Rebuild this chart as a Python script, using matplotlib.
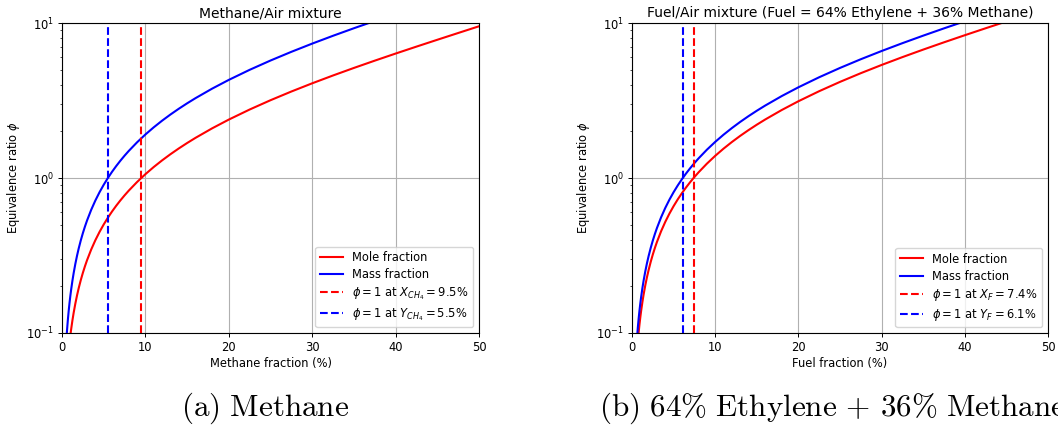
import matplotlib
matplotlib.use("Agg")
import matplotlib.pyplot as plt

# ---------------- data ----------------
# (a) Methane/Air
ch4_mole_x = [1.0, 1.1, 1.25, 1.4, 1.6, 1.8, 2.0, 2.25, 2.5, 2.75, 3, 3.5, 4, 4.5, 5, 5.5, 6, 6.5, 7, 7.5,
              8, 9, 10, 11, 12, 13, 14, 15, 16, 18, 20, 22.5, 25, 27.5, 30, 32.5, 35, 37.5, 40, 42.5,
              45, 47.5, 50]
ch4_mole_phi = [0.09622, 0.10595, 0.12058, 0.13526, 0.15489, 0.17461, 0.19441, 0.21927, 0.24426,
                0.26937, 0.29462, 0.34550, 0.39692, 0.44887, 0.50137, 0.55442, 0.60804, 0.66224,
                0.71701, 0.77238, 0.82835, 0.94213, 1.0584, 1.1774, 1.2990, 1.4234, 1.5507, 1.6811,
                1.8145, 2.0911, 2.3815, 2.7656, 3.1753, 3.6133, 4.0826, 4.5866, 5.1294, 5.7156,
                6.3507, 7.0410, 7.7940, 8.6188, 9.526]
ch4_mass_x = [0.5, 0.6, 0.7, 0.8, 0.9, 1.0, 1.1, 1.25, 1.4, 1.6, 1.8, 2.0, 2.25, 2.5, 2.75, 3, 3.5, 4,
              4.5, 5, 5.5, 6, 6.5, 7, 7.5, 8, 9, 10, 11, 12, 13, 14, 15, 16, 18, 20, 22.5, 25, 27.5,
              30, 32.5, 35, 37.5]
ch4_mass_phi = [0.08633, 0.10370, 0.12111, 0.13855, 0.15603, 0.17354, 0.19108, 0.21747, 0.24394,
                0.27935, 0.31491, 0.35061, 0.39545, 0.44051, 0.48582, 0.53134, 0.62310, 0.71584,
                0.80952, 0.90422, 0.99989, 1.0966, 1.1943, 1.2931, 1.3930, 1.4939, 1.6991, 1.9089,
                2.1234, 2.3427, 2.5671, 2.7968, 3.0318, 3.2724, 3.7712, 4.295, 4.9877, 5.7267,
                6.5166, 7.3628, 8.2718, 9.2508, 10.308]
ch4_x_st = 9.5
ch4_y_st = 5.5

# (b) 64% Ethylene + 36% Methane
fuel_mole_x = [0.75, 0.8, 0.9, 1.0, 1.1, 1.25, 1.4, 1.6, 1.8, 2.0, 2.25, 2.5, 2.75, 3, 3.5, 4, 4.5, 5,
               5.5, 6, 6.5, 7, 7.5, 8, 9, 10, 11, 12, 13, 14, 15, 16, 18, 20, 22.5, 25, 27.5, 30,
               32.5, 35, 37.5, 40, 42.5, 45]
fuel_mole_phi = [0.09453, 0.10089, 0.11362, 0.12636, 0.13914, 0.15835, 0.17763, 0.20341, 0.22931,
                 0.25530, 0.28796, 0.32077, 0.35376, 0.38691, 0.45373, 0.52125, 0.58947, 0.65843,
                 0.72809, 0.79851, 0.86968, 0.94162, 1.0143, 1.0878, 1.2372, 1.3900, 1.5462,
                 1.7059, 1.8693, 2.0365, 2.2076, 2.3829, 2.7461, 3.1275, 3.6319, 4.1700, 4.7452,
                 5.3614, 6.0233, 6.7362, 7.506, 8.340, 9.2465, 10.235]
fuel_mass_x = [0.5, 0.6, 0.7, 0.8, 0.9, 1.0, 1.1, 1.25, 1.4, 1.6, 1.8, 2.0, 2.25, 2.5, 2.75, 3, 3.5,
               4, 4.5, 5, 5.5, 6, 6.5, 7, 7.5, 8, 9, 10, 11, 12, 13, 14, 15, 16, 18, 20, 22.5, 25,
               27.5, 30, 32.5, 35, 37.5, 40]
fuel_mass_phi = [0.07734, 0.09289, 0.10848, 0.12412, 0.13977, 0.15545, 0.17117, 0.19481, 0.21852,
                 0.25024, 0.28210, 0.31408, 0.35425, 0.39462, 0.43520, 0.47598, 0.55818, 0.64126,
                 0.72518, 0.81001, 0.89571, 0.98234, 1.0699, 1.1584, 1.2478, 1.3383, 1.5221,
                 1.7100, 1.9022, 2.0986, 2.2997, 2.5053, 2.7159, 2.9314, 3.3783, 3.8475, 4.4681,
                 5.1300, 5.8376, 6.5957, 7.4100, 8.2869, 9.234, 10.26]
fuel_x_st = 7.4
fuel_y_st = 6.1

titles = ["Methane/Air mixture", "Fuel/Air mixture (Fuel = 64% Ethylene + 36% Methane)"]
xlabels = ["Methane fraction (%)", "Fuel fraction (%)"]
captions = [r"$\mathrm{(a)\ Methane}$", r"$\mathrm{(b)\ 64\%\ Ethylene\,+\,36\%\ Methane}$"]

# ---------------- figure ----------------
fs = 8.3
fig = plt.figure(figsize=(10.58, 4.29), dpi=100)
ax1 = fig.add_axes([62 / 1058, 1 - 333 / 429, 417 / 1058, 310 / 429])
ax2 = fig.add_axes([632 / 1058, 1 - 333 / 429, 416 / 1058, 310 / 429])

panels = [
    (ax1, ch4_mole_x, ch4_mole_phi, ch4_mass_x, ch4_mass_phi, ch4_x_st, ch4_y_st,
     r"$\phi = 1$ at $X_{CH_4} = %.1f\%%$", r"$\phi = 1$ at $Y_{CH_4} = %.1f\%%$"),
    (ax2, fuel_mole_x, fuel_mole_phi, fuel_mass_x, fuel_mass_phi, fuel_x_st, fuel_y_st,
     r"$\phi = 1$ at $X_F = %.1f\%%$", r"$\phi = 1$ at $Y_F = %.1f\%%$"),
]

for i, (ax, mx, mp, yx, yp, xst, yst, lx, ly) in enumerate(panels):
    ax.plot(mx, mp, color="red", lw=1.5, label="Mole fraction")
    ax.plot(yx, yp, color="blue", lw=1.5, label="Mass fraction")
    ax.axvline(xst, color="red", ls="--", lw=1.5, label=lx % xst)
    ax.axvline(yst, color="blue", ls="--", lw=1.5, label=ly % yst)
    ax.set_yscale("log")
    ax.set_xlim(0, 50)
    ax.set_ylim(0.1, 10)
    ax.grid(True, which="major", color="#b0b0b0", lw=0.8)
    ax.set_title(titles[i], fontsize=10, pad=4)
    ax.set_xlabel(xlabels[i], fontsize=fs, labelpad=2)
    ax.set_ylabel(r"Equivalence ratio $\phi$", fontsize=fs, labelpad=3)
    ax.tick_params(which="major", labelsize=fs, length=2.9, width=0.7, pad=2.9)
    ax.tick_params(which="minor", length=1.7, width=0.5)
    for sp in ax.spines.values():
        sp.set_linewidth(0.8)
    ax.legend(loc="lower right", fontsize=fs, labelspacing=0.35)

fig.text(265 / 1058, 1 - 408 / 429, captions[0], fontsize=22.4, ha="center", va="center",
         math_fontfamily="cm")
fig.text(599 / 1058, 1 - 408 / 429, captions[1], fontsize=22.4, ha="left", va="center",
         math_fontfamily="cm")

fig.savefig("out.png", dpi=100)
